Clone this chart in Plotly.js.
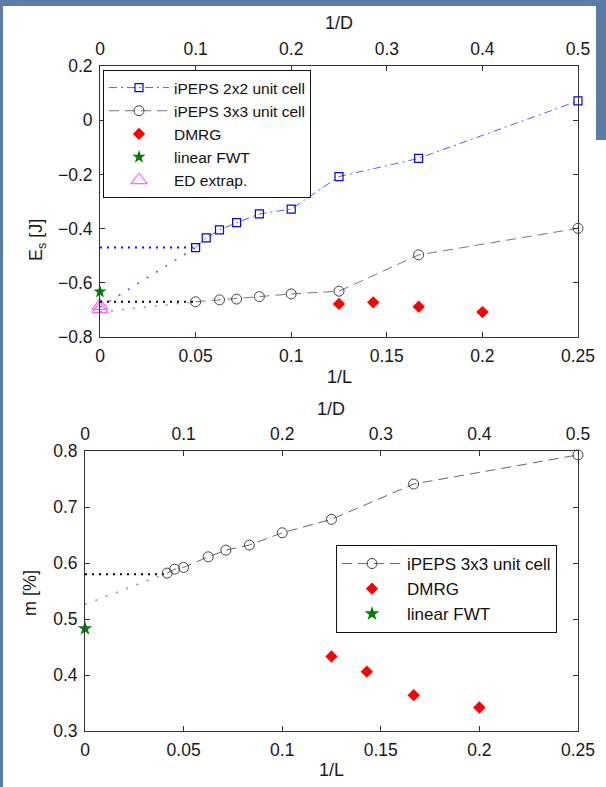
<!DOCTYPE html>
<html><head><meta charset="utf-8">
<script src="https://cdn.plot.ly/plotly-3.0.1.min.js"></script>
<style>
html,body{margin:0;padding:0;width:606px;height:787px;overflow:hidden;background:#5b7ca5;}
#paper{position:absolute;left:0;top:0;width:606px;height:787px;background:#fff;
  clip-path:polygon(3px 6px,596px 6px,596px 140px,606px 140px,606px 787px,3px 787px);}
#plot{position:absolute;left:0;top:0;width:606px;height:787px;}
</style></head><body>
<div id="paper"></div><div id="plot"></div>
<script>
// ---------- data (top panel: ground-state energy) ----------
const invD_2x2 = [0.1, 0.1111, 0.125, 0.1429, 0.1667, 0.2, 0.25, 0.3333, 0.5];
const E_2x2    = [-0.470, -0.434, -0.405, -0.378, -0.346, -0.328, -0.208, -0.141, 0.071];
const invD_3x3 = [0.1, 0.125, 0.1429, 0.1667, 0.2, 0.25, 0.3333, 0.5];
const E_3x3    = [-0.670, -0.663, -0.660, -0.651, -0.641, -0.631, -0.497, -0.399];
const invL_dmrg = [0.125, 0.1429, 0.1667, 0.2];
const E_dmrg    = [-0.678, -0.672, -0.688, -0.708];
const invL_fwt = [0];
const E_fwt    = [-0.633];
const invL_ed  = [0, 0];
const E_ed     = [-0.685, -0.697];
// extrapolations (dotted)
const extD      = [0, 0.1];
const E_2x2_h   = [-0.470, -0.470];
const E_2x2_fit = [-0.690, -0.470];
const E_3x3_h   = [-0.670, -0.670];
const E_3x3_fit = [-0.708, -0.670];

// ---------- data (bottom panel: magnetization) ----------
const invD_m   = [0.0833, 0.0909, 0.1, 0.125, 0.1429, 0.1667, 0.2, 0.25, 0.3333, 0.5];
const m_3x3    = [0.582, 0.589, 0.592, 0.611, 0.623, 0.632, 0.654, 0.678, 0.741, 0.793];
const m_dmrg   = [0.433, 0.406, 0.364, 0.342];
const m_fwt    = [0.483];
const extDm    = [0, 0.0833];
const m_h      = [0.580, 0.580];
const m_fit    = [0.526, 0.582];

// ---------- ticks ----------
const ticksL = [0, 0.05, 0.1, 0.15, 0.2, 0.25];
const ticksLtext = ['0', '0.05', '0.1', '0.15', '0.2', '0.25'];
const ticksD = [0, 0.1, 0.2, 0.3, 0.4, 0.5];
const ticksDtext = ['0', '0.1', '0.2', '0.3', '0.4', '0.5'];
const ticksE = [-0.8, -0.6, -0.4, -0.2, 0, 0.2];
const ticksEtext = ['\u22120.8', '\u22120.6', '\u22120.4', '\u22120.2', '0', '0.2'];
const ticksM = [0.3, 0.4, 0.5, 0.6, 0.7, 0.8];
const ticksMtext = ['0.3', '0.4', '0.5', '0.6', '0.7', '0.8'];

const FONT = 'Liberation Sans, Arial, Helvetica, sans-serif';
const W = 606, H = 787;
const px = v => v / W, py = v => 1 - v / H;

const dotted = (x, y, xa, ya, color, dash, w) => ({
  x: x, y: y, xaxis: xa, yaxis: ya, mode: 'lines', showlegend: false, hoverinfo: 'skip',
  line: {color: color, dash: dash, width: w}
});

const traces = [
  // top panel extrapolations
  dotted(extD, E_2x2_h, 'x2', 'y', '#1010ff', '2px,5px', 2),
  dotted(extD, E_2x2_fit, 'x2', 'y', '#5a5aff', '2px,9px', 1.6),
  dotted(extD, E_3x3_h, 'x2', 'y', '#000', '2px,5px', 2),
  dotted(extD, E_3x3_fit, 'x2', 'y', '#9a9a9a', '2px,9px', 1.6),
  {x: invD_2x2, y: E_2x2, xaxis: 'x2', yaxis: 'y', mode: 'lines+markers', name: 'iPEPS 2x2 unit cell',
   legend: 'legend', cliponaxis: false,
   line: {color: '#5c5cff', dash: '8px,4px,2px,4px', width: 1},
   marker: {symbol: 'square-open', size: 8, color: '#0000ff', line: {width: 1.2}}},
  {x: invD_3x3, y: E_3x3, xaxis: 'x2', yaxis: 'y', mode: 'lines+markers', name: 'iPEPS 3x3 unit cell',
   legend: 'legend', cliponaxis: false,
   line: {color: '#777', dash: '10px,6px', width: 1},
   marker: {symbol: 'circle-open', size: 10, color: '#444', line: {width: 1}}},
  {x: invL_dmrg, y: E_dmrg, xaxis: 'x', yaxis: 'y', mode: 'markers', name: 'DMRG',
   legend: 'legend', cliponaxis: false,
   marker: {symbol: 'diamond', size: 9.5, color: '#ff0000'}},
  {x: invL_fwt, y: E_fwt, xaxis: 'x', yaxis: 'y', mode: 'markers', name: 'linear FWT',
   legend: 'legend', cliponaxis: false,
   marker: {symbol: 'star', size: 10, color: '#007f00'}},
  {x: invL_ed, y: E_ed, xaxis: 'x', yaxis: 'y', mode: 'markers', name: 'ED extrap.',
   legend: 'legend', cliponaxis: false,
   marker: {symbol: 'triangle-up-open', size: 14, color: '#ff66ff', line: {width: 1.2}}},

  // bottom panel
  dotted(extDm, m_h, 'x4', 'y2', '#000', '2px,5px', 2),
  dotted(extDm, m_fit, 'x4', 'y2', '#9a9a9a', '2px,9px', 1.6),
  {x: invD_m, y: m_3x3, xaxis: 'x4', yaxis: 'y2', mode: 'lines+markers', name: 'iPEPS 3x3 unit cell',
   legend: 'legend2', cliponaxis: false,
   line: {color: '#666', dash: '10px,6px', width: 1},
   marker: {symbol: 'circle-open', size: 10, color: '#444', line: {width: 1}}},
  {x: invL_dmrg, y: m_dmrg, xaxis: 'x3', yaxis: 'y2', mode: 'markers', name: 'DMRG',
   legend: 'legend2', cliponaxis: false,
   marker: {symbol: 'diamond', size: 9.5, color: '#ff0000'}},
  {x: invL_fwt, y: m_fwt, xaxis: 'x3', yaxis: 'y2', mode: 'markers', name: 'linear FWT',
   legend: 'legend2', cliponaxis: false,
   marker: {symbol: 'star', size: 11, color: '#007f00'}}
];

const tickFont = {family: FONT, size: 17.5, color: '#1a1a1a'};
const ax = (o) => Object.assign({
  showgrid: false, zeroline: false, showline: true, linecolor: '#333', linewidth: 1,
  ticks: 'inside', ticklen: 5, tickcolor: '#333', tickwidth: 1, tickfont: tickFont,
  tickmode: 'array', ticklabelstandoff: 3, fixedrange: true
}, o);

const titleFont = {family: FONT, size: 18, color: '#1a1a1a'};
const ann = (text, x, y, angle) => ({
  text: text, xref: 'paper', yref: 'paper', x: px(x), y: py(y), xanchor: 'center', yanchor: 'middle',
  showarrow: false, textangle: angle || 0, font: titleFont
});

const legendBase = {
  xanchor: 'left', yanchor: 'top', bgcolor: '#fff', bordercolor: '#111', borderwidth: 1,
  itemwidth: 60, traceorder: 'normal'
};

const layout = {
  width: W, height: H, margin: {l: 0, r: 0, t: 0, b: 0},
  paper_bgcolor: 'rgba(0,0,0,0)', plot_bgcolor: 'rgba(0,0,0,0)',
  font: {family: FONT, color: '#111'},
  showlegend: true,
  xaxis: ax({domain: [px(100), px(578)], range: [0, 0.25], anchor: 'y', side: 'bottom',
             tickvals: ticksL, ticktext: ticksLtext}),
  xaxis2: ax({overlaying: 'x', range: [0, 0.5], anchor: 'y', side: 'top',
              tickvals: ticksD, ticktext: ticksDtext}),
  yaxis: ax({domain: [py(337), py(66)], range: [-0.8, 0.2], anchor: 'x', mirror: 'ticks',
             tickvals: ticksE, ticktext: ticksEtext}),
  xaxis3: ax({domain: [px(85), px(578)], range: [0, 0.25], anchor: 'y2', side: 'bottom',
              tickvals: ticksL, ticktext: ticksLtext}),
  xaxis4: ax({overlaying: 'x3', range: [0, 0.5], anchor: 'y2', side: 'top',
              tickvals: ticksD, ticktext: ticksDtext}),
  yaxis2: ax({domain: [py(731), py(451)], range: [0.3, 0.8], anchor: 'x3', mirror: 'ticks',
              tickvals: ticksM, ticktext: ticksMtext}),
  legend: Object.assign({}, legendBase, {x: px(103), y: py(70),
          font: {family: FONT, size: 15.5, color: '#111'}}),
  legend2: Object.assign({}, legendBase, {x: px(336), y: py(545),
          font: {family: FONT, size: 17, color: '#111'}}),
  annotations: [
    ann('1/D', 339, 23), ann('1/L', 339, 377),
    ann('1/D', 331, 409), ann('1/L', 331, 770),
    ann('E<sub>s</sub> [J]', 38, 240, -90), ann('m [%]', 30, 593, -90)
  ]
};

Plotly.newPlot('plot', traces, layout, {displayModeBar: false, staticPlot: true});
</script></body></html>
